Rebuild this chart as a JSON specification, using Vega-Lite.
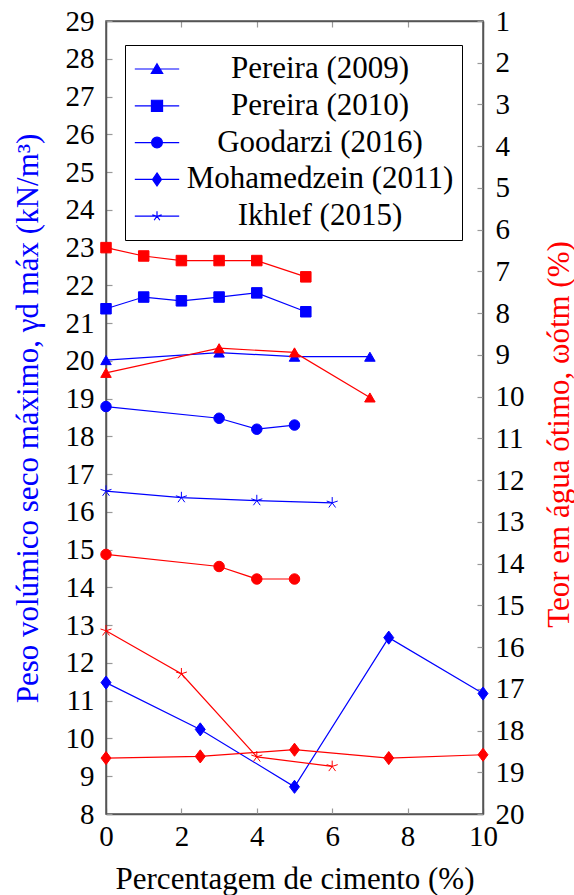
{
  "$schema": "https://vega.github.io/schema/vega-lite/v6.json",
  "width": 377,
  "height": 793,
  "autosize": {"type": "none"},
  "padding": {"left": 106, "top": 21, "right": 91, "bottom": 81},
  "background": "white",
  "config": {
    "view": {"stroke": "#555555", "strokeWidth": 1.5},
    "font": "Liberation Serif",
    "axis": {
      "grid": false,
      "domainColor": "#555555",
      "domainWidth": 1.5,
      "tickColor": "#999999",
      "tickWidth": 1.2,
      "tickSize": -6,
      "labelFlush": false,
      "labelFont": "Liberation Serif",
      "labelFontSize": 29,
      "labelColor": "black",
      "titleFont": "Liberation Serif",
      "titleFontSize": 31,
      "titleFontWeight": "normal"
    },
    "legend": {
      "labelFont": "Liberation Serif",
      "labelFontSize": 31,
      "labelColor": "black"
    }
  },
  "data": {
    "values": [
      {"s": "Pereira (2009)", "c": 0, "g": 20.02, "w": 9.43},
      {"s": "Pereira (2009)", "c": 3, "g": 20.22, "w": 8.84},
      {"s": "Pereira (2009)", "c": 5, "g": 20.11, "w": 8.94},
      {"s": "Pereira (2009)", "c": 7, "g": 20.11, "w": 10.02},
      {"s": "Pereira (2010)", "c": 0, "g": 21.38, "w": 6.43},
      {"s": "Pereira (2010)", "c": 1, "g": 21.69, "w": 6.63},
      {"s": "Pereira (2010)", "c": 2, "g": 21.59, "w": 6.74},
      {"s": "Pereira (2010)", "c": 3, "g": 21.69, "w": 6.74},
      {"s": "Pereira (2010)", "c": 4, "g": 21.8, "w": 6.74},
      {"s": "Pereira (2010)", "c": 5.3, "g": 21.3, "w": 7.13},
      {"s": "Goodarzi (2016)", "c": 0, "g": 18.79, "w": 13.78},
      {"s": "Goodarzi (2016)", "c": 3, "g": 18.48, "w": 14.07},
      {"s": "Goodarzi (2016)", "c": 4, "g": 18.19, "w": 14.37},
      {"s": "Goodarzi (2016)", "c": 5, "g": 18.3, "w": 14.37},
      {"s": "Mohamedzein (2011)", "c": 0, "g": 11.48, "w": 18.66},
      {"s": "Mohamedzein (2011)", "c": 2.5, "g": 10.24, "w": 18.62},
      {"s": "Mohamedzein (2011)", "c": 5, "g": 8.72, "w": 18.46},
      {"s": "Mohamedzein (2011)", "c": 7.5, "g": 12.67, "w": 18.66},
      {"s": "Mohamedzein (2011)", "c": 10, "g": 11.19, "w": 18.58},
      {"s": "Ikhlef (2015)", "c": 0, "g": 16.55, "w": 15.61},
      {"s": "Ikhlef (2015)", "c": 2, "g": 16.38, "w": 16.64},
      {"s": "Ikhlef (2015)", "c": 4, "g": 16.3, "w": 18.63},
      {"s": "Ikhlef (2015)", "c": 6, "g": 16.24, "w": 18.86}
    ]
  },
  "layer": [
    {
      "encoding": {
        "x": {
          "field": "c",
          "type": "quantitative",
          "scale": {"domain": [0, 10], "nice": false, "zero": false},
          "axis": {
            "orient": "bottom",
            "values": [0, 2, 4, 6, 8, 10],
            "labelPadding": 14,
            "title": "Percentagem de cimento (%)",
            "titleColor": "black",
            "titleBaseline": "alphabetic",
            "titleY": 74
          }
        },
        "y": {
          "field": "g",
          "type": "quantitative",
          "scale": {"domain": [8, 29], "nice": false, "zero": false},
          "axis": {
            "orient": "left",
            "values": [8, 9, 10, 11, 12, 13, 14, 15, 16, 17, 18, 19, 20, 21, 22, 23, 24, 25, 26, 27, 28, 29],
            "labelPadding": 18,
            "labelBaseline": "middle",
            "title": "Peso volúmico seco máximo, γd máx (kN/m³)",
            "titleColor": "#0000ff",
            "titleAngle": -90,
            "titleBaseline": "alphabetic",
            "titleAlign": "center",
            "titleX": -69,
            "titleY": 397
          }
        }
      },
      "layer": [
        {
          "mark": {"type": "line", "color": "#0000ff", "strokeWidth": 1.2},
          "encoding": {"detail": {"field": "s"}}
        },
        {
          "mark": {"type": "point", "filled": true, "stroke": "#0000ff", "strokeWidth": 1, "opacity": 1, "size": 110},
          "encoding": {
            "shape": {
              "field": "s",
              "type": "nominal",
              "legend": null,
              "scale": {
                "domain": ["Goodarzi (2016)", "Ikhlef (2015)", "Mohamedzein (2011)", "Pereira (2009)", "Pereira (2010)"],
                "range": ["circle", "M0,0L0,-1.1M0,0L1.05,-0.34M0,0L0.65,0.89M0,0L-0.65,0.89M0,0L-1.05,-0.34", "M0,-1.25L0.95,0L0,1.25L-0.95,0Z", "triangle-up", "square"]
              }
            },
            "fill": {
              "field": "s",
              "type": "nominal",
              "scale": {
                "domain": ["Pereira (2009)", "Pereira (2010)", "Goodarzi (2016)", "Mohamedzein (2011)", "Ikhlef (2015)"],
                "range": ["#0000ff", "#0000ff", "#0000ff", "#0000ff", "#0000ff"]
              },
              "legend": {
                "title": null,
                "orient": "none",
                "legendX": 19,
                "legendY": 24,
                "strokeColor": "black",
                "fillColor": "white",
                "padding": 8,
                "symbolOffset": 8,
                "symbolSize": 900,
                "symbolStrokeColor": "#0000ff",
                "symbolStrokeWidth": 1.2,
                "symbolOpacity": 1,
                "symbolType": {"expr": "datum.value === 'Pereira (2009)' ? 'M-1.48,0L1.48,0M0,-0.35L0.38,0.3L-0.38,0.3Z' : datum.value === 'Pereira (2010)' ? 'M-1.48,0L1.48,0M-0.37,-0.37L0.37,-0.37L0.37,0.37L-0.37,0.37Z' : datum.value === 'Goodarzi (2016)' ? 'M-1.48,0L1.48,0M-0.36,0A0.36,0.36,0,1,0,0.36,0A0.36,0.36,0,1,0,-0.36,0Z' : datum.value === 'Mohamedzein (2011)' ? 'M-1.48,0L1.48,0M0,-0.43L0.3,0L0,0.43L-0.3,0Z' : 'M-1.48,0L1.48,0M0,0L0,-0.33M0,0L0.31,-0.1M0,0L0.19,0.27M0,0L-0.19,0.27M0,0L-0.31,-0.1'"},
                "rowPadding": 5.8,
                "labelAlign": "center",
                "labelOffset": 147,
                "labelLimit": 0,
                "labelBaseline": "middle"
              }
            }
          }
        }
      ]
    },
    {
      "encoding": {
        "x": {
          "field": "c",
          "type": "quantitative",
          "axis": {
            "orient": "top",
            "values": [0, 2, 4, 6, 8, 10],
            "labels": false,
            "title": null
          }
        },
        "y": {
          "field": "w",
          "type": "quantitative",
          "scale": {"domain": [1, 20], "nice": false, "zero": false, "reverse": true},
          "axis": {
            "orient": "right",
            "values": [1, 2, 3, 4, 5, 6, 7, 8, 9, 10, 11, 12, 13, 14, 15, 16, 17, 18, 19, 20],
            "labelPadding": 18,
            "labelBaseline": "middle",
            "title": "Teor em água ótimo, ωótm (%)",
            "titleColor": "#ff0000",
            "titleAngle": -90,
            "titleBaseline": "alphabetic",
            "titleAlign": "center",
            "titleX": 85,
            "titleY": 413
          }
        }
      },
      "layer": [
        {
          "mark": {"type": "line", "color": "#ff0000", "strokeWidth": 1.2},
          "encoding": {"detail": {"field": "s"}}
        },
        {
          "mark": {"type": "point", "filled": true, "fill": "#ff0000", "stroke": "#ff0000", "strokeWidth": 1, "opacity": 1, "size": 110},
          "encoding": {
            "shape": {"field": "s", "type": "nominal", "legend": null}
          }
        }
      ]
    }
  ],
  "resolve": {"scale": {"y": "independent"}}
}
